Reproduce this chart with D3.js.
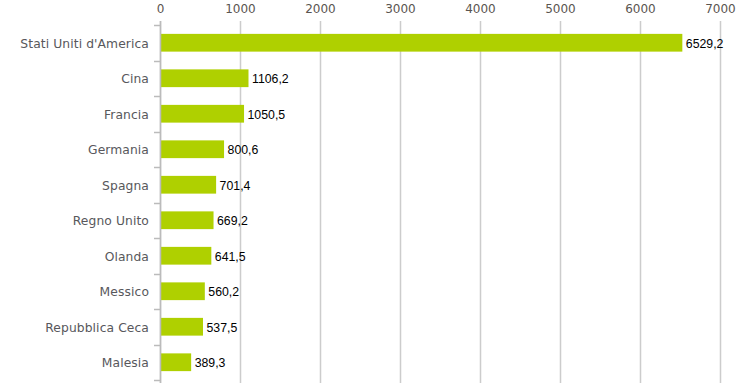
<html>
  <head>
    <script src="https://d3js.org/d3.v7.min.js"></script>
    <style>
      body { margin: 0; background: #fff; }
      text { font-family: "DejaVu Sans", sans-serif; }
    </style>
  </head>
  <body>
    <svg width="750" height="389" id="chart"></svg>
    <script>
      const countries = [
        "Stati Uniti d'America",
        "Cina",
        "Francia",
        "Germania",
        "Spagna",
        "Regno Unito",
        "Olanda",
        "Messico",
        "Repubblica Ceca",
        "Malesia",
      ];
      const values = [6529.2, 1106.2, 1050.5, 800.6, 701.4, 669.2, 641.5, 560.2, 537.5, 389.3];
      const xTicks = [0, 1000, 2000, 3000, 4000, 5000, 6000, 7000];

      const svg = d3.select("svg#chart");
      const margins = { top: 25, right: 30, bottom: 9, left: 160 };
      const chartWidth = 750 - margins.left - margins.right;
      const chartHeight = 389 - margins.top - margins.bottom;

      const xScale = d3.scaleLinear().domain([0, 7000]).range([0, chartWidth]);
      const yScale = d3.scaleBand().domain(countries).range([0, chartHeight]).paddingInner(0.5).paddingOuter(0.25);
      const bandStep = yScale.step();

      const chartArea = svg
        .append("g")
        .attr("transform", `translate(${margins.left}, ${margins.top})`);

      // vertical gridlines
      chartArea
        .selectAll("line.grid")
        .data(xTicks)
        .join("line")
        .attr("class", "grid")
        .attr("x1", (d) => xScale(d) + 0.5)
        .attr("x2", (d) => xScale(d) + 0.5)
        .attr("y1", -4)
        .attr("y2", chartHeight + 3)
        .style("stroke", "#cccccc")
        .style("stroke-width", 1.5);

      // top tick labels
      chartArea
        .selectAll("text.tick")
        .data(xTicks)
        .join("text")
        .attr("class", "tick")
        .attr("x", (d) => xScale(d) + 0.5)
        .attr("y", -12)
        .attr("text-anchor", "middle")
        .style("font-size", "12px")
        .style("fill", "#5a5550")
        .text((d) => d);

      // left axis ticks at band boundaries
      const boundaries = d3.range(countries.length + 1).map((i) => i * bandStep);
      chartArea
        .selectAll("line.ytick")
        .data(boundaries)
        .join("line")
        .attr("class", "ytick")
        .attr("x1", -6)
        .attr("x2", 0)
        .attr("y1", (d) => Math.round(d) + 0.5)
        .attr("y2", (d) => Math.round(d) + 0.5)
        .style("stroke", "#bbbbbb")
        .style("stroke-width", 1.5);

      // bars
      chartArea
        .selectAll("rect")
        .data(values)
        .join("rect")
        .attr("x", 1)
        .attr("y", (d, i) => yScale(countries[i]))
        .attr("width", (d) => xScale(d) - 1)
        .attr("height", yScale.bandwidth())
        .attr("fill", "#afd000");

      // category labels
      chartArea
        .selectAll("text.cat")
        .data(countries)
        .join("text")
        .attr("class", "cat")
        .attr("x", -11)
        .attr("y", (d) => yScale(d) + yScale.bandwidth() / 2 + 0.5)
        .attr("dy", "0.35em")
        .attr("text-anchor", "end")
        .style("font-size", "12.3px")
        .style("letter-spacing", "0.1px")
        .style("fill", "#58585c")
        .text((d) => d);

      // value labels
      chartArea
        .selectAll("text.val")
        .data(values)
        .join("text")
        .attr("class", "val")
        .attr("x", (d) => xScale(d) + 3.5)
        .attr("y", (d, i) => yScale(countries[i]) + yScale.bandwidth() / 2 + 0.5)
        .attr("dy", "0.35em")
        .style("font-family", "'Liberation Sans', Arial, sans-serif")
        .style("font-size", "12.3px")
        .style("fill", "#000")
        .text((d) => d3.format(".1f")(d).replace(".", ","));

      // left axis line
      chartArea
        .append("line")
        .attr("x1", 0.5)
        .attr("x2", 0.5)
        .attr("y1", -4)
        .attr("y2", chartHeight + 3)
        .style("stroke", "#bbbbbb")
        .style("stroke-width", 1.5);
    </script>
  </body>
</html>
